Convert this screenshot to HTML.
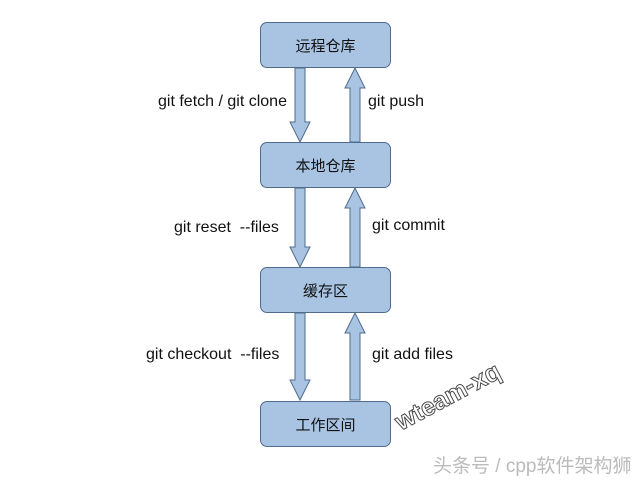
<!DOCTYPE html>
<html><head><style>
body{margin:0;width:640px;height:480px;background:#fff;position:relative;overflow:hidden;font-family:"Liberation Sans","Noto Sans CJK SC",sans-serif}
.b{position:absolute;left:260px;width:131px;height:46px;background:#a9c4e2;border:1px solid #4f6b8e;border-radius:7px;box-sizing:border-box;display:flex;align-items:center;justify-content:center;font-size:15px;color:#111}
.t{position:absolute;font-size:16px;color:#111;white-space:nowrap}
</style></head><body>
<svg width="640" height="480" style="position:absolute;left:0;top:0">
<g fill="#a9c4e2" stroke="#4f6b8e" stroke-width="1">
<polygon points="295,68 305,68 305,122 310,122 300,142 290,122 295,122"/>
<polygon points="350,142 360,142 360,88 365,88 355,68 345,88 350,88"/>
<polygon points="295,188 305,188 305,247 310,247 300,267 290,247 295,247"/>
<polygon points="350,267 360,267 360,208 365,208 355,188 345,208 350,208"/>
<polygon points="295,313 305,313 305,380 310,380 300,400 290,380 295,380"/>
<polygon points="350,400 360,400 360,333 365,333 355,313 345,333 350,333"/>
</g>
</svg>
<div class="b" style="top:22px">远程仓库</div>
<div class="b" style="top:142px">本地仓库</div>
<div class="b" style="top:267px">缓存区</div>
<div class="b" style="top:401px">工作区间</div>
<div class="t" style="left:158px;top:93px">git fetch / git clone</div>
<div class="t" style="left:368px;top:93px">git push</div>
<div class="t" style="left:174px;top:219px">git reset&nbsp; --files</div>
<div class="t" style="left:372px;top:217px">git commit</div>
<div class="t" style="left:146px;top:346px">git checkout&nbsp; --files</div>
<div class="t" style="left:372px;top:346px">git add files</div>
<div class="t" style="left:404px;top:408px;font-size:25px;font-weight:bold;color:#fff;-webkit-text-stroke:1px #4a4a4a;transform:rotate(-28deg);transform-origin:left bottom">wteam-xq</div>
<div class="t" style="left:433px;top:451px;font-size:19px;color:#bbb">头条号 / cpp软件架构狮</div>
</body></html>
